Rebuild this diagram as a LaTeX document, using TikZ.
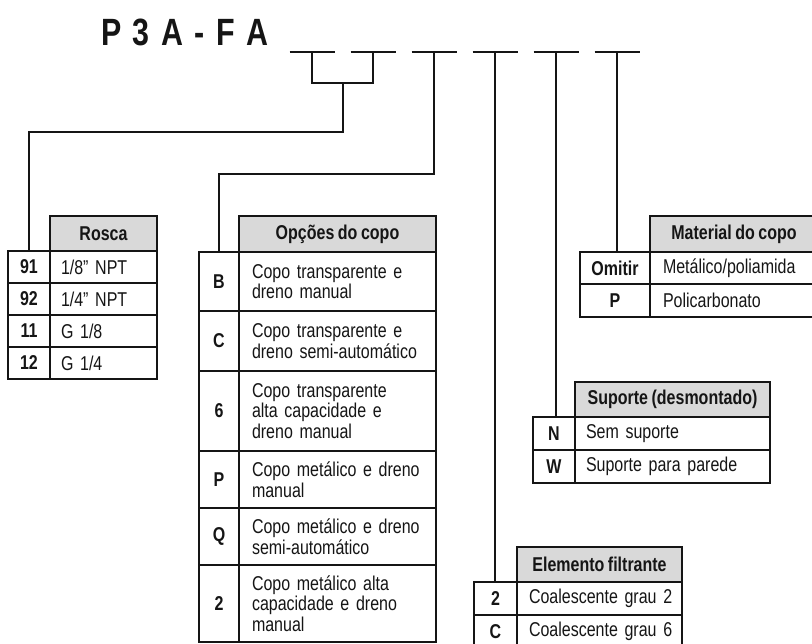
\documentclass[tikz,border=0pt]{standalone}
\usepackage{fontspec}
\usepackage{xcolor}
\usetikzlibrary{positioning}
\newfontfamily\narrowsf{Liberation Sans}[FakeStretch=0.80, WordSpace=0.8]
\newcommand{\bodyfont}{\narrowsf\fontsize{20}{20.5}\selectfont}
\newcommand{\boldfont}{\narrowsf\bfseries\fontsize{20}{20.5}\selectfont}
\newcommand{\titlefont}{\narrowsf\bfseries\fontsize{38}{40}\selectfont}
\newcommand{\gap}{\hspace{11.5pt}}
\definecolor{ink}{HTML}{151515}
\definecolor{headgray}{HTML}{D9D9D9}
\tikzset{
  wire/.style={line width=1.5pt, draw=ink},
  slot/.style={line width=2.8pt, draw=ink},
  frame/.style={line width=2.6pt, draw=ink},
  head/.style={draw=ink, line width=2.6pt, fill=headgray, text=ink, font=\boldfont,
    inner sep=0pt, outer sep=0pt, anchor=north west},
  code/.style={draw=ink, line width=1.5pt, text=ink, font=\boldfont,
    inner sep=0pt, outer sep=0pt, anchor=north west},
  desc/.style={draw=ink, line width=1.5pt, text=ink, font=\bodyfont,
    inner xsep=11pt, inner ysep=0pt, outer sep=0pt, align=left}
}

\begin{document}
\begin{tikzpicture}[x=1pt, y=-1pt]
  \useasboundingbox (0,0) rectangle (812,644);

  % model code and its option slots
  \node[anchor=base west, inner sep=0pt, font=\titlefont, text=ink] (model) at (101,46)
    {P\gap 3\gap A\gap -\gap F\gap A};
  \coordinate (s1) at (312,52);
  \coordinate (s2) at (373,52);
  \coordinate (s3) at (434,52);
  \coordinate (s4) at (495,52);
  \coordinate (s5) at (556,52);
  \coordinate (s6) at (617,52);
  \foreach \s in {s1,s2,s3,s4,s5,s6}
    \draw[slot] (\s) ++(-22.5,0) -- ++(45,0);

  % Rosca
  \begin{scope}[code/.append style={minimum width=42pt, minimum height=32pt},
                desc/.append style={text width=85pt, minimum height=32pt}]
    \node[head, minimum width=107pt, minimum height=35pt] (r-h) at (50,216) {Rosca};
    \node[code] (r-c1) at (8,251) {91};
    \node[code, below=0pt of r-c1] (r-c2) {92};
    \node[code, below=0pt of r-c2] (r-c3) {11};
    \node[code, below=0pt of r-c3] (r-c4) {12};
    \node[desc, right=0pt of r-c1] (r-d1) {1/8” NPT};
    \node[desc, right=0pt of r-c2] (r-d2) {1/4” NPT};
    \node[desc, right=0pt of r-c3] (r-d3) {G 1/8};
    \node[desc, right=0pt of r-c4] (r-d4) {G 1/4};
    \draw[frame] (r-c1.north west) rectangle (r-d4.south east);
    \draw[frame] (r-c1.north east) -- (r-c4.south east);
  \end{scope}

  % Opcoes do copo
  \begin{scope}[code/.append style={minimum width=40pt},
                desc/.append style={inner xsep=13pt, text width=171pt}]
    \node[head, minimum width=197pt, minimum height=36pt] (o-h) at (239,216) {Opções do copo};
    \node[code, minimum height=59pt] (o-c1) at (199,252) {B};
    \node[code, minimum height=60pt, below=0pt of o-c1] (o-c2) {C};
    \node[code, minimum height=80pt, below=0pt of o-c2] (o-c3) {6};
    \node[code, minimum height=57pt, below=0pt of o-c3] (o-c4) {P};
    \node[code, minimum height=57pt, below=0pt of o-c4] (o-c5) {Q};
    \node[code, minimum height=77pt, below=0pt of o-c5] (o-c6) {2};
    \node[desc, minimum height=59pt, right=0pt of o-c1] (o-d1) {Copo transparente e\\dreno manual};
    \node[desc, minimum height=60pt, right=0pt of o-c2] (o-d2) {Copo transparente e\\dreno semi-automático};
    \node[desc, minimum height=80pt, right=0pt of o-c3] (o-d3) {Copo transparente\\alta capacidade e\\dreno manual};
    \node[desc, minimum height=57pt, right=0pt of o-c4] (o-d4) {Copo metálico e dreno\\manual};
    \node[desc, minimum height=57pt, right=0pt of o-c5] (o-d5) {Copo metálico e dreno\\semi-automático};
    \node[desc, minimum height=77pt, right=0pt of o-c6] (o-d6) {Copo metálico alta\\capacidade e dreno\\manual};
    \draw[frame] (o-c1.north west) rectangle (o-d6.south east);
    \draw[frame] (o-c1.north east) -- (o-c6.south east);
  \end{scope}

  % Material do copo
  \begin{scope}[code/.append style={minimum width=70pt},
                desc/.append style={inner xsep=13pt, text width=142pt}]
    \node[head, minimum width=168pt, minimum height=36pt] (m-h) at (650,216) {Material do copo};
    \node[code, minimum height=32pt] (m-c1) at (580,252) {Omitir};
    \node[code, minimum height=33pt, below=0pt of m-c1] (m-c2) {P};
    \node[desc, minimum height=32pt, right=0pt of m-c1] (m-d1) {Metálico/poliamida};
    \node[desc, minimum height=33pt, right=0pt of m-c2] (m-d2) {Policarbonato};
    \draw[frame] (m-c1.north west) rectangle (m-d2.south east);
    \draw[frame] (m-c1.north east) -- (m-c2.south east);
  \end{scope}

  % Suporte
  \begin{scope}[code/.append style={minimum width=42pt, minimum height=33pt},
                desc/.append style={text width=173pt, minimum height=33pt}]
    \node[head, minimum width=195pt, minimum height=35pt] (n-h) at (575,382) {Suporte (desmontado)};
    \node[code] (n-c1) at (533,417) {N};
    \node[code, below=0pt of n-c1] (n-c2) {W};
    \node[desc, right=0pt of n-c1] (n-d1) {Sem suporte};
    \node[desc, right=0pt of n-c2] (n-d2) {Suporte para parede};
    \draw[frame] (n-c1.north west) rectangle (n-d2.south east);
    \draw[frame] (n-c1.north east) -- (n-c2.south east);
  \end{scope}

  % Elemento filtrante
  \begin{scope}[code/.append style={minimum width=43pt, minimum height=33pt},
                desc/.append style={inner xsep=8pt, text width=149pt, minimum height=33pt}]
    \node[head, minimum width=165pt, minimum height=35pt] (e-h) at (517,547) {Elemento filtrante};
    \node[code] (e-c1) at (474,582) {2};
    \node[code, below=0pt of e-c1] (e-c2) {C};
    \node[desc, right=0pt of e-c1] (e-d1) {\hspace*{4pt}Coalescente grau 2};
    \node[desc, right=0pt of e-c2] (e-d2) {\hspace*{4pt}Coalescente grau 6};
    \draw[frame] (e-c1.north west) rectangle (e-d2.south east);
    \draw[frame] (e-c1.north east) -- (e-c2.south east);
  \end{scope}

  % leaders from the slots down to the tables
  \coordinate (brk) at (343,83);
  \draw[wire] (s1) |- (brk) -| (s2);
  \draw[wire] (brk) -- ++(0,49) -| (r-c1.north);
  \draw[wire] (s3) -- ++(0,122) -| (o-c1.north);
  \draw[wire] (s4) -- (s4 |- e-c1.north);
  \draw[wire] (s5) -- (s5 |- n-c1.north);
  \draw[wire] (s6) -- (s6 |- m-c1.north);
\end{tikzpicture}
\end{document}
